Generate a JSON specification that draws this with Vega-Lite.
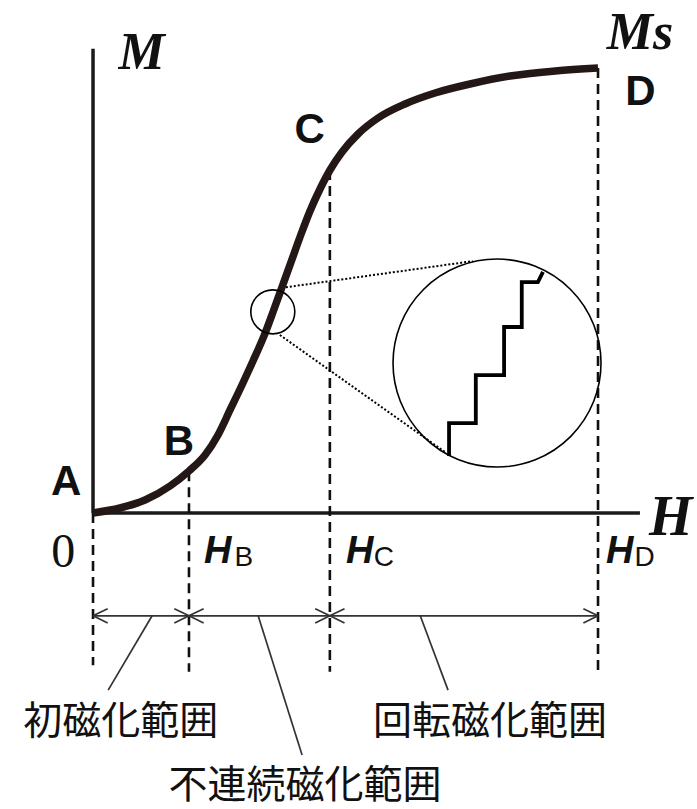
{
  "$schema": "https://vega.github.io/schema/vega-lite/v6.json",
  "width": 697,
  "height": 809,
  "padding": 0,
  "autosize": {"type": "none"},
  "background": "white",
  "config": {"view": {"stroke": null}},
  "datasets": {
    "axes": [
      {"x": 0, "y": 0, "x2": 0, "y2": 104.3},
      {"x": 0, "y": 0, "x2": 108.3, "y2": 0}
    ],
    "dashed": [
      {"x": 0, "y": 0, "x2": 0, "y2": -34.2},
      {"x": 19.0, "y": 9.4, "x2": 19.0, "y2": -35.7},
      {"x": 46.9, "y": 77.1, "x2": 46.9, "y2": -35.7},
      {"x": 100, "y": 100, "x2": 100, "y2": -35.7}
    ],
    "thin": [
      {"x": 0, "y": -23.1, "x2": 100, "y2": -23.1},
      {"x": 0, "y": -23.1, "x2": 2.9, "y2": -21.5},
      {"x": 0, "y": -23.1, "x2": 2.9, "y2": -24.7},
      {"x": 19.0, "y": -23.1, "x2": 16.1, "y2": -21.5},
      {"x": 19.0, "y": -23.1, "x2": 16.1, "y2": -24.7},
      {"x": 19.0, "y": -23.1, "x2": 21.9, "y2": -21.5},
      {"x": 19.0, "y": -23.1, "x2": 21.9, "y2": -24.7},
      {"x": 46.9, "y": -23.1, "x2": 44.0, "y2": -21.5},
      {"x": 46.9, "y": -23.1, "x2": 44.0, "y2": -24.7},
      {"x": 46.9, "y": -23.1, "x2": 49.8, "y2": -21.5},
      {"x": 46.9, "y": -23.1, "x2": 49.8, "y2": -24.7},
      {"x": 100, "y": -23.1, "x2": 97.1, "y2": -21.5},
      {"x": 100, "y": -23.1, "x2": 97.1, "y2": -24.7},
      {"x": 11.7, "y": -23.1, "x2": 3.0, "y2": -39.8},
      {"x": 32.7, "y": -23.1, "x2": 41.4, "y2": -54.4},
      {"x": 64.8, "y": -23.1, "x2": 70.3, "y2": -39.8}
    ],
    "dotted": [
      {"x": 37.4, "y": 50.6, "x2": 75.2, "y2": 56.6},
      {"x": 37.0, "y": 40.0, "x2": 69.7, "y2": 13.7}
    ],
    "curve": [
      {"H": 0, "M": 0},
      {"H": 5.35, "M": 1.12},
      {"H": 10.3, "M": 2.92},
      {"H": 15.25, "M": 6.07},
      {"H": 19.01, "M": 9.44},
      {"H": 22.18, "M": 13.03},
      {"H": 24.75, "M": 17.53},
      {"H": 27.13, "M": 23.15},
      {"H": 29.5, "M": 28.76},
      {"H": 31.68, "M": 34.16},
      {"H": 33.86, "M": 39.78},
      {"H": 35.64, "M": 45.17},
      {"H": 37.43, "M": 50.79},
      {"H": 39.21, "M": 56.4},
      {"H": 40.99, "M": 62.02},
      {"H": 42.97, "M": 67.87},
      {"H": 44.95, "M": 72.81},
      {"H": 46.93, "M": 77.08},
      {"H": 49.31, "M": 81.12},
      {"H": 52.48, "M": 85.17},
      {"H": 56.44, "M": 88.76},
      {"H": 61.78, "M": 91.91},
      {"H": 67.72, "M": 94.38},
      {"H": 74.65, "M": 96.4},
      {"H": 82.57, "M": 98.2},
      {"H": 91.49, "M": 99.33},
      {"H": 100, "M": 100}
    ],
    "stairs": [
      {"i": 0, "H": 70.5, "M": 12.8},
      {"i": 1, "H": 70.5, "M": 20.2},
      {"i": 2, "H": 75.8, "M": 20.2},
      {"i": 3, "H": 75.8, "M": 31.0},
      {"i": 4, "H": 81.4, "M": 31.0},
      {"i": 5, "H": 81.4, "M": 41.8},
      {"i": 6, "H": 84.9, "M": 41.8},
      {"i": 7, "H": 84.9, "M": 51.9},
      {"i": 8, "H": 88.1, "M": 51.9},
      {"i": 9, "H": 89.1, "M": 54.2}
    ],
    "circles": [
      {"H": 35.6, "M": 45.2, "d": 1936},
      {"H": 80.0, "M": 33.7, "d": 43264}
    ],
    "pts": [
      {"t": "A", "H": -5.3, "M": 7.0},
      {"t": "B", "H": 17.0, "M": 15.9},
      {"t": "C", "H": 42.9, "M": 86.1},
      {"t": "D", "H": 108.4, "M": 94.6}
    ],
    "serifM": [
      {"t": "M", "H": 9.6, "M": 103.4},
      {"t": "Ms", "H": 108.3, "M": 107.9}
    ],
    "serifH": [
      {"t": "H", "H": 114.4, "M": -1.1}
    ],
    "zero": [
      {"t": "0", "H": -5.9, "M": -9.0}
    ],
    "hlab": [
      {"t": "H", "H": 22.0, "M": -8.8},
      {"t": "H", "H": 50.1, "M": -8.8},
      {"t": "H", "H": 101.6, "M": -8.8}
    ],
    "hsub": [
      {"t": "B", "H": 28.0, "M": -10.2},
      {"t": "C", "H": 55.6, "M": -10.2},
      {"t": "D", "H": 107.2, "M": -10.2}
    ],
    "jp": [
      {"t": "初磁化範囲", "H": 5.5, "M": -47.0},
      {"t": "回転磁化範囲", "H": 78.6, "M": -47.0},
      {"t": "不連続磁化範囲", "H": 42.0, "M": -61.3}
    ]
  },
  "layer": [
    {
      "data": {"name": "axes"},
      "mark": {"type": "rule", "color": "#1a1a1a", "strokeWidth": 3.5},
      "encoding": {
        "x": {"field": "x", "type": "quantitative", "scale": {"domain": [-18.42, 119.6], "nice": false, "zero": false}, "axis": null},
        "y": {"field": "y", "type": "quantitative", "scale": {"domain": [-66.52, 115.28], "nice": false, "zero": false}, "axis": null},
        "x2": {"field": "x2"},
        "y2": {"field": "y2"}
      }
    },
    {
      "data": {"name": "dashed"},
      "mark": {"type": "rule", "color": "#111111", "strokeWidth": 2.6, "strokeDash": [10, 6]},
      "encoding": {
        "x": {"field": "x", "type": "quantitative", "scale": {"domain": [-18.42, 119.6], "nice": false, "zero": false}, "axis": null},
        "y": {"field": "y", "type": "quantitative", "scale": {"domain": [-66.52, 115.28], "nice": false, "zero": false}, "axis": null},
        "x2": {"field": "x2"},
        "y2": {"field": "y2"}
      }
    },
    {
      "data": {"name": "thin"},
      "mark": {"type": "rule", "color": "#333333", "strokeWidth": 1.7},
      "encoding": {
        "x": {"field": "x", "type": "quantitative", "scale": {"domain": [-18.42, 119.6], "nice": false, "zero": false}, "axis": null},
        "y": {"field": "y", "type": "quantitative", "scale": {"domain": [-66.52, 115.28], "nice": false, "zero": false}, "axis": null},
        "x2": {"field": "x2"},
        "y2": {"field": "y2"}
      }
    },
    {
      "data": {"name": "dotted"},
      "mark": {"type": "rule", "color": "#000000", "strokeWidth": 2, "strokeDash": [2, 2]},
      "encoding": {
        "x": {"field": "x", "type": "quantitative", "scale": {"domain": [-18.42, 119.6], "nice": false, "zero": false}, "axis": null},
        "y": {"field": "y", "type": "quantitative", "scale": {"domain": [-66.52, 115.28], "nice": false, "zero": false}, "axis": null},
        "x2": {"field": "x2"},
        "y2": {"field": "y2"}
      }
    },
    {
      "data": {"name": "curve"},
      "mark": {"type": "line", "color": "#231815", "strokeWidth": 7.5, "interpolate": "monotone", "strokeCap": "butt"},
      "encoding": {
        "x": {"field": "H", "type": "quantitative", "scale": {"domain": [-18.42, 119.6], "nice": false, "zero": false}, "axis": null},
        "y": {"field": "M", "type": "quantitative", "scale": {"domain": [-66.52, 115.28], "nice": false, "zero": false}, "axis": null}
      }
    },
    {
      "data": {"name": "circles"},
      "mark": {"type": "point", "shape": "circle", "filled": false, "color": "#000000", "strokeWidth": 1.6, "opacity": 1},
      "encoding": {
        "x": {"field": "H", "type": "quantitative", "scale": {"domain": [-18.42, 119.6], "nice": false, "zero": false}, "axis": null},
        "y": {"field": "M", "type": "quantitative", "scale": {"domain": [-66.52, 115.28], "nice": false, "zero": false}, "axis": null},
        "size": {"field": "d", "type": "quantitative", "scale": null, "legend": null}
      }
    },
    {
      "data": {"name": "stairs"},
      "mark": {"type": "line", "color": "#000000", "strokeWidth": 3.8, "interpolate": "linear", "strokeJoin": "miter"},
      "encoding": {
        "x": {"field": "H", "type": "quantitative", "scale": {"domain": [-18.42, 119.6], "nice": false, "zero": false}, "axis": null},
        "y": {"field": "M", "type": "quantitative", "scale": {"domain": [-66.52, 115.28], "nice": false, "zero": false}, "axis": null},
        "order": {"field": "i", "type": "quantitative"}
      }
    },
    {
      "data": {"name": "pts"},
      "mark": {"type": "text", "font": "Liberation Sans", "fontWeight": "bold", "fontSize": 42, "align": "center", "baseline": "middle", "color": "#111111"},
      "encoding": {
        "x": {"field": "H", "type": "quantitative", "scale": {"domain": [-18.42, 119.6], "nice": false, "zero": false}, "axis": null},
        "y": {"field": "M", "type": "quantitative", "scale": {"domain": [-66.52, 115.28], "nice": false, "zero": false}, "axis": null},
        "text": {"field": "t"}
      }
    },
    {
      "data": {"name": "serifM"},
      "mark": {"type": "text", "font": "Liberation Serif", "fontWeight": "bold", "fontStyle": "italic", "fontSize": 52, "align": "center", "baseline": "middle", "color": "#111111"},
      "encoding": {
        "x": {"field": "H", "type": "quantitative", "scale": {"domain": [-18.42, 119.6], "nice": false, "zero": false}, "axis": null},
        "y": {"field": "M", "type": "quantitative", "scale": {"domain": [-66.52, 115.28], "nice": false, "zero": false}, "axis": null},
        "text": {"field": "t"}
      }
    },
    {
      "data": {"name": "serifH"},
      "mark": {"type": "text", "font": "Liberation Serif", "fontWeight": "bold", "fontStyle": "italic", "fontSize": 56, "align": "center", "baseline": "middle", "color": "#111111"},
      "encoding": {
        "x": {"field": "H", "type": "quantitative", "scale": {"domain": [-18.42, 119.6], "nice": false, "zero": false}, "axis": null},
        "y": {"field": "M", "type": "quantitative", "scale": {"domain": [-66.52, 115.28], "nice": false, "zero": false}, "axis": null},
        "text": {"field": "t"}
      }
    },
    {
      "data": {"name": "zero"},
      "mark": {"type": "text", "font": "Liberation Serif", "fontSize": 48, "align": "center", "baseline": "middle", "color": "#111111"},
      "encoding": {
        "x": {"field": "H", "type": "quantitative", "scale": {"domain": [-18.42, 119.6], "nice": false, "zero": false}, "axis": null},
        "y": {"field": "M", "type": "quantitative", "scale": {"domain": [-66.52, 115.28], "nice": false, "zero": false}, "axis": null},
        "text": {"field": "t"}
      }
    },
    {
      "data": {"name": "hlab"},
      "mark": {"type": "text", "font": "Liberation Sans", "fontWeight": "bold", "fontStyle": "italic", "fontSize": 38, "align": "left", "baseline": "middle", "color": "#111111"},
      "encoding": {
        "x": {"field": "H", "type": "quantitative", "scale": {"domain": [-18.42, 119.6], "nice": false, "zero": false}, "axis": null},
        "y": {"field": "M", "type": "quantitative", "scale": {"domain": [-66.52, 115.28], "nice": false, "zero": false}, "axis": null},
        "text": {"field": "t"}
      }
    },
    {
      "data": {"name": "hsub"},
      "mark": {"type": "text", "font": "Liberation Sans", "fontSize": 28, "align": "left", "baseline": "middle", "color": "#111111"},
      "encoding": {
        "x": {"field": "H", "type": "quantitative", "scale": {"domain": [-18.42, 119.6], "nice": false, "zero": false}, "axis": null},
        "y": {"field": "M", "type": "quantitative", "scale": {"domain": [-66.52, 115.28], "nice": false, "zero": false}, "axis": null},
        "text": {"field": "t"}
      }
    },
    {
      "data": {"name": "jp"},
      "mark": {"type": "text", "font": "Noto Sans CJK JP", "fontSize": 39, "align": "center", "baseline": "middle", "color": "#111111"},
      "encoding": {
        "x": {"field": "H", "type": "quantitative", "scale": {"domain": [-18.42, 119.6], "nice": false, "zero": false}, "axis": null},
        "y": {"field": "M", "type": "quantitative", "scale": {"domain": [-66.52, 115.28], "nice": false, "zero": false}, "axis": null},
        "text": {"field": "t"}
      }
    }
  ]
}
